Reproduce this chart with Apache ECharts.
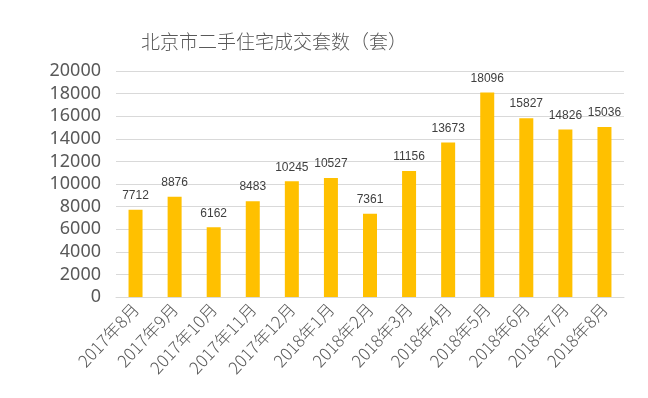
<!DOCTYPE html>
<html>
<head>
<meta charset="utf-8">
<script src="https://cdn.jsdelivr.net/npm/echarts@6/dist/echarts.min.js"></script>
<style>
  html, body { margin: 0; padding: 0; background: #fff; }
  #main { width: 648px; height: 398px; }
</style>
</head>
<body>
<div id="main"></div>
<script>
// 月份
var months = ['2017年8月', '2017年9月', '2017年10月', '2017年11月', '2017年12月', '2018年1月',
  '2018年2月', '2018年3月', '2018年4月', '2018年5月', '2018年6月', '2018年7月', '2018年8月']
// 成交套数
var deals = [7712, 8876, 6162, 8483, 10245, 10527, 7361, 11156, 13673, 18096, 15827, 14826, 15036]
var yMin = 0
var yMax = 20000
var yStep = 2000

var chart = echarts.init(document.getElementById('main'))
var option = {
  animation: false,
  backgroundColor: '#fff',
  title: {
    text: '北京市二手住宅成交套数（套）',
    left: 136,
    top: 27,
    textStyle: {
      fontFamily: 'Noto Sans CJK SC',
      fontSize: 19,
      fontWeight: 300,
      color: '#595959'
    }
  },
  grid: { left: 116, right: 24, top: 71, bottom: 101 },
  xAxis: {
    type: 'category',
    data: months,
    axisTick: { show: false },
    axisLine: { lineStyle: { color: '#d9d9d9' } },
    axisLabel: {
      rotate: 47,
      interval: 0,
      margin: 9,
      fontSize: 17,
      color: '#595959',
      fontFamily: 'Noto Sans CJK SC',
      fontWeight: 300
    }
  },
  yAxis: {
    type: 'value',
    min: yMin,
    max: yMax,
    interval: yStep,
    axisLine: { show: false },
    axisTick: { show: false },
    axisLabel: {
      fontSize: 18,
      color: '#595959',
      margin: 15,
      fontFamily: 'Noto Sans',
      formatter: function(v) { return String(v) }
    },
    splitLine: { lineStyle: { color: '#d9d9d9' } }
  },
  series: [
    {
      type: 'bar',
      data: deals,
      barWidth: 14,
      itemStyle: { color: '#FFC000' },
      label: {
        show: true,
        position: 'top',
        distance: 8,
        fontSize: 12,
        color: '#404040',
        fontFamily: 'Liberation Sans'
      }
    }
  ]
}
chart.setOption(option)
</script>
</body>
</html>
